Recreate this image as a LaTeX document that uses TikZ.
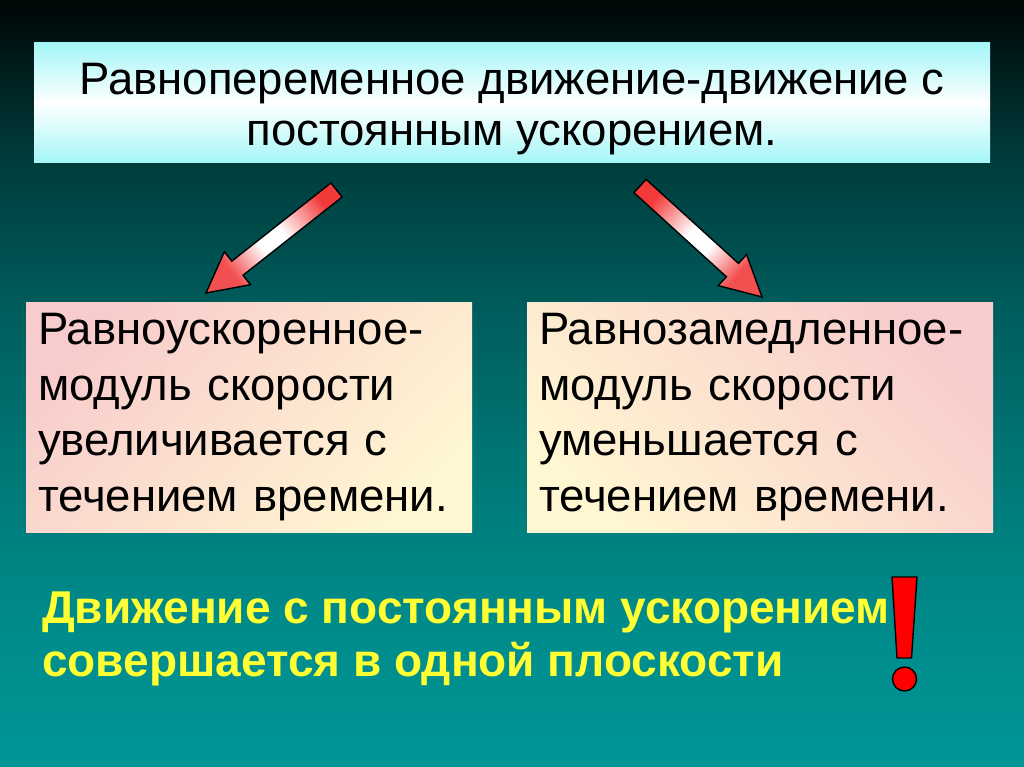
\documentclass[tikz,border=0pt]{standalone}
\usepackage{fontspec}
\setmainfont{Liberation Sans}
\usetikzlibrary{calc}
\definecolor{bgA}{HTML}{000606}
\definecolor{bgB}{HTML}{003A3A}
\definecolor{bgC}{HTML}{005C5C}
\definecolor{bgD}{HTML}{007676}
\definecolor{bgE}{HTML}{008A8A}
\definecolor{bgF}{HTML}{009696}
\definecolor{cyanbox}{HTML}{A4F6F8}
\definecolor{pinkbox}{HTML}{F8CCCC}
\definecolor{creambox}{HTML}{FFF6D2}
\definecolor{arrred}{HTML}{F23A3A}
\definecolor{arrhead}{HTML}{F25050}
\definecolor{yellowtxt}{HTML}{FFFF33}
\definecolor{excl}{HTML}{FF0000}
\pgfdeclareverticalshading{bgshade}{100bp}{color(0bp)=(bgF); color(25bp)=(bgF); color(35bp)=(bgE); color(45bp)=(bgD); color(55bp)=(bgC); color(65bp)=(bgB); color(75bp)=(bgA); color(100bp)=(bgA)}
\pgfdeclareverticalshading{arrowshade}{100bp}{color(0bp)=(arrhead); color(28bp)=(arrhead); color(44bp)=(white); color(54bp)=(white); color(74bp)=(arrred); color(100bp)=(arrred)}
\newcommand{\fatarrow}[3]{%
  \coordinate (#1-neck) at ($(#2)!40pt!(#1)$);
  \path[arrowbody, shading angle=#3]
    ($(#1)!9pt!90:(#2)$) -- ($(#1-neck)!9pt!90:(#2)$) -- ($(#1-neck)!21pt!90:(#2)$)
    -- (#2) -- ($(#1-neck)!21pt!-90:(#2)$) -- ($(#1-neck)!9pt!-90:(#2)$)
    -- ($(#1)!9pt!-90:(#2)$) -- cycle;
}
\begin{document}
\begin{tikzpicture}[x=1pt,y=-1pt,
  topbox/.style={inner sep=0pt, minimum width=956pt, minimum height=120pt,
    top color=cyanbox, bottom color=cyanbox, middle color=white},
  toptext/.style={inner sep=0pt, align=center, font=\fontsize{45.5}{51}\selectfont},
  sidebox/.style={inner xsep=12pt, inner ysep=0pt, minimum height=230pt,
    align=left, font=\fontsize{45.5}{55.5}\selectfont},
  arrowbody/.style={draw=black, line width=1.4pt, line join=miter, shading=arrowshade},
  yellowline/.style={anchor=base west, inner sep=0pt, text=yellowtxt,
    font=\fontsize{46}{54}\bfseries\selectfont},
  exclshape/.style={fill=excl, draw=black, line width=1.4pt}
]
\path[shading=bgshade] (0,0) rectangle (1024,767);
\useasboundingbox (0,0) rectangle (1024,767);

\node[topbox] (top) at (512,103) {};
\node[toptext] (toptxt) at (512,109) {Равнопеременное движение-движение с\\постоянным ускорением.};

\node[sidebox, text width=422pt, top color=pinkbox, bottom color=creambox, shading angle=45] (left) at (249,417)
  {\raisebox{-5pt}{\parbox{422pt}{Равноускоренное-\\модуль скорости\\увеличивается с\\течением времени.}}};
\node[sidebox, text width=442pt, top color=pinkbox, bottom color=creambox, shading angle=-45] (right) at (760,417)
  {\raisebox{-5pt}{\parbox{442pt}{Равнозамедленное-\\модуль скорости\\уменьшается с\\течением времени.}}};

\coordinate (la) at (336.5,190);
\coordinate (lt) at (206,293);
\coordinate (ra) at (640,186);
\coordinate (rt) at (762,297);
\fatarrow{la}{lt}{-51.7}
\fatarrow{ra}{rt}{47.7}

\node[yellowline] (y1) at (42,623) {Движение с постоянным ускорением};
\node[yellowline] (y2) at (42,676) {совершается в одной плоскости};

\path[exclshape] (892,577) -- (917,577) -- (911.5,658) -- (897,658) -- cycle;
\path[exclshape] (904.5,679) circle (12pt);
\end{tikzpicture}
\end{document}
